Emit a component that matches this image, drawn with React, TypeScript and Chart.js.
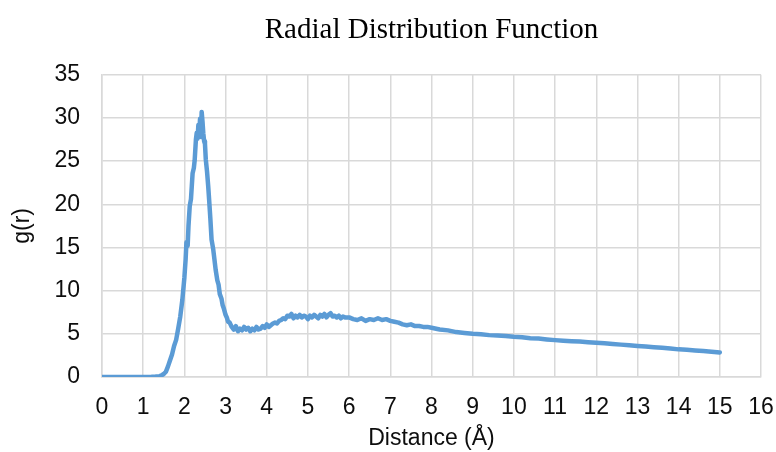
import React, { useEffect, useRef } from "react";
import { Chart, registerables } from "chart.js";

Chart.register(...registerables);

const chartTitle = "Radial Distribution Function";
const xAxisTitle = "Distance (Å)";
const yAxisTitle = "g(r)";

const distance = [
  0, 0.5, 1.0, 1.2, 1.3, 1.4, 1.45, 1.5, 1.55, 1.6, 1.65, 1.7, 1.75, 1.8, 1.85, 1.9, 1.95,
  2.0, 2.03, 2.05, 2.08, 2.1, 2.13, 2.16, 2.18, 2.2, 2.23, 2.25, 2.28, 2.3, 2.32, 2.34, 2.36,
  2.38, 2.4, 2.42, 2.44, 2.46, 2.48, 2.5, 2.52, 2.55, 2.58, 2.6, 2.63, 2.66, 2.7, 2.73, 2.76,
  2.8, 2.83, 2.86, 2.9, 2.93, 2.96, 3.0, 3.03, 3.06, 3.1, 3.15, 3.2, 3.25, 3.3, 3.35, 3.4,
  3.45, 3.5, 3.55, 3.6, 3.65, 3.7, 3.75, 3.8, 3.85, 3.9, 3.95, 4.0, 4.05, 4.1, 4.15, 4.2,
  4.25, 4.3, 4.35, 4.4, 4.45, 4.5, 4.55, 4.6, 4.65, 4.7, 4.75, 4.8, 4.85, 4.9, 4.95, 5.0,
  5.05, 5.1, 5.15, 5.2, 5.25, 5.3, 5.35, 5.4, 5.45, 5.5, 5.55, 5.6, 5.65, 5.7, 5.75, 5.8,
  5.85, 5.9, 6.0, 6.1, 6.2, 6.3, 6.4, 6.5, 6.6, 6.7, 6.8, 6.9, 7.0, 7.1, 7.2, 7.3, 7.4,
  7.5, 7.6, 7.7, 7.8, 7.9, 8.0, 8.2, 8.4, 8.6, 8.8, 9.0, 9.2, 9.4, 9.6, 9.8, 10.0, 10.2,
  10.4, 10.6, 10.8, 11.0, 11.2, 11.4, 11.6, 11.8, 12.0, 12.2, 12.4, 12.6, 12.8, 13.0, 13.2,
  13.4, 13.6, 13.8, 14.0, 14.2, 14.4, 14.6, 14.8, 15.0,
];

const gValues = [
  0, 0, 0, 0.02, 0.05, 0.1, 0.2, 0.35, 0.6, 1.2, 1.9, 2.6, 3.6, 4.3, 5.6, 7.0, 8.9,
  11.5, 13.6, 15.6, 15.2, 17.5, 19.8, 20.6, 22.1, 23.6, 24.2, 25.1, 27.5, 28.3, 27.6, 29.2, 28.0,
  29.9, 27.8, 30.7, 29.6, 28.2, 27.3, 27.0, 25.2, 23.8, 22.0, 20.6, 18.4, 15.9, 14.8, 13.6, 12.4,
  11.2, 10.7, 9.6, 9.1, 8.3, 7.9, 7.2, 6.9, 6.4, 6.3, 5.8, 5.5, 5.9, 5.3, 5.6, 5.4,
  5.8, 5.5, 5.7, 5.3, 5.6, 5.4, 5.8, 5.5, 5.6, 5.9, 5.7, 6.1, 5.8, 6.0, 6.2, 6.3,
  6.2, 6.5, 6.6, 6.8, 6.7, 7.1, 7.0, 7.3, 6.8, 7.1, 6.9, 7.2, 6.9, 7.1, 7.0, 6.7,
  7.1, 6.9, 7.2, 7.0, 6.8, 7.2, 7.0, 7.3, 6.9, 7.2, 7.4, 7.0, 7.1, 6.9, 7.1, 6.8,
  7.0, 6.9, 6.9, 6.7, 6.6, 6.8, 6.5, 6.7, 6.6, 6.8, 6.6, 6.7, 6.5, 6.4, 6.3, 6.1, 6.0,
  6.1, 5.9, 5.9, 5.8, 5.8, 5.7, 5.5, 5.4, 5.2, 5.1, 5.0, 4.95, 4.85, 4.8, 4.75, 4.65, 4.6,
  4.5, 4.45, 4.35, 4.27, 4.2, 4.15, 4.1, 4.02, 3.96, 3.9, 3.82, 3.75, 3.68, 3.6, 3.52,
  3.45, 3.38, 3.3, 3.2, 3.15, 3.08, 3.0, 2.93, 2.85,
];

const xTickMin = 0;
const xTickMax = 16;
const xTickStep = 1;
const yTickMin = 0;
const yTickMax = 35;
const yTickStep = 5;

export default function App() {
  const canvasRef = useRef<HTMLCanvasElement | null>(null);

  useEffect(() => {
    const canvas = canvasRef.current;
    if (!canvas) return;
    const points = distance.map((x, i) => ({ x, y: gValues[i] }));
    const gridColor = "#d9d9d9";
    const textColor = "#0d0d0d";
    const sans = "'Liberation Sans', Arial, sans-serif";
    const chart = new Chart(canvas, {
      type: "line",
      data: {
        datasets: [
          {
            data: points,
            borderColor: "#5b9bd5",
            backgroundColor: "#5b9bd5",
            borderWidth: 4.5,
            pointRadius: 0,
            tension: 0,
            borderJoinStyle: "round",
            borderCapStyle: "round",
          },
        ],
      },
      options: {
        animation: false,
        responsive: false,
        maintainAspectRatio: false,
        layout: { padding: { left: 0, right: 0, top: 0, bottom: 0 } },
        plugins: {
          legend: { display: false },
          tooltip: { enabled: false },
          title: {
            display: true,
            text: chartTitle,
            fullSize: false,
            color: "#000000",
            font: { family: "'Liberation Serif', 'Times New Roman', serif", size: 29, weight: "normal" },
            padding: { top: 13, bottom: 27 },
          },
        },
        scales: {
          x: {
            type: "linear",
            min: xTickMin,
            max: xTickMax,
            ticks: {
              stepSize: xTickStep,
              color: textColor,
              padding: 17,
              maxRotation: 0,
              autoSkip: false,
              font: { family: sans, size: 23 },
            },
            grid: { color: gridColor, lineWidth: 1.5, drawTicks: false },
            border: { color: gridColor, width: 1.5 },
            title: {
              display: true,
              text: xAxisTitle,
              color: textColor,
              font: { family: sans, size: 23 },
              padding: { top: 4, bottom: 0 },
            },
            afterFit: (scale: any) => {
              scale.height = 75;
              scale.paddingRight = 15;
              scale.paddingLeft = 0;
            },
          },
          y: {
            type: "linear",
            min: yTickMin,
            max: yTickMax,
            ticks: {
              stepSize: yTickStep,
              color: textColor,
              padding: 22,
              font: { family: sans, size: 23 },
            },
            grid: { color: gridColor, lineWidth: 1.5, drawTicks: false },
            border: { color: gridColor, width: 1.5 },
            title: {
              display: true,
              text: yAxisTitle,
              color: textColor,
              font: { family: sans, size: 23 },
              padding: { top: 9, bottom: 4 },
            },
            afterFit: (scale: any) => {
              scale.width = 102;
            },
          },
        },
      },
    });
    return () => chart.destroy();
  }, []);

  return (
    <div style={{ position: "fixed", left: 0, top: 0, width: 776, height: 452, background: "#ffffff" }}>
      <canvas ref={canvasRef} width={776} height={452} style={{ display: "block" }} />
    </div>
  );
}
